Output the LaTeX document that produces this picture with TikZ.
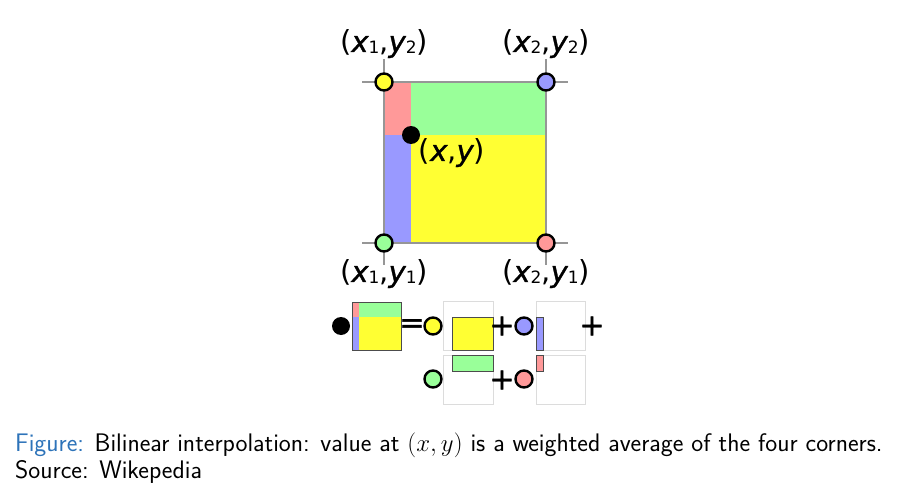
\documentclass[tikz,border=0pt]{standalone}
\usepackage{fontspec}
\newfontfamily\dv{DejaVu Sans}
\newfontfamily\dvb[FakeBold=1.2]{DejaVu Sans}
\definecolor{cred}{RGB}{255,153,153}
\definecolor{cgreen}{RGB}{153,255,153}
\definecolor{cblue}{RGB}{153,153,255}
\definecolor{cyellow}{RGB}{255,255,51}
\definecolor{sqgray}{RGB}{150,150,150}
\definecolor{lightbox}{RGB}{220,220,220}
\definecolor{figblue}{RGB}{45,115,185}
\newcommand{\sbs}[1]{\raisebox{-2pt}{\fontsize{17}{17}\selectfont #1}}
\newcommand{\vx}[1]{{\dvb\itshape #1}}
\begin{document}
\begin{tikzpicture}[x=1pt,y=-1pt,
  corner/.style={circle,draw=black,line width=2.4pt,minimum size=17pt,inner sep=0pt},
  dot/.style={circle,fill=black,minimum size=18pt,inner sep=0pt},
  guide/.style={draw=sqgray,line width=2.2pt},
  label/.style={font=\dv\fontsize{29}{29}\selectfont,inner sep=0pt},
  pbox/.style={draw=lightbox,line width=1pt},
  prect/.style={draw=black!70,line width=1pt},
  op/.style={font=\dvb\fontsize{30}{30}\selectfont,inner sep=0pt},
  captext/.style={anchor=base west,inner sep=0pt,font=\sffamily\fontsize{25.4}{25.4}\selectfont}]
\useasboundingbox (0,0) rectangle (911,503);
% main square
\fill[cred] (384,82) rectangle (411,135);
\fill[cgreen] (411,82) rectangle (546,135);
\fill[cblue] (384,135) rectangle (411,243);
\fill[cyellow] (411,135) rectangle (546,243);
\draw[guide] (362,82) -- (568,82);
\draw[guide] (362,243) -- (568,243);
\draw[guide] (384,59) -- (384,265);
\draw[guide] (546,59) -- (546,265);
\node[corner,fill=cyellow] (c12) at (384,82) {};
\node[corner,fill=cblue] (c22) at (546,82) {};
\node[corner,fill=cgreen] (c11) at (384,243) {};
\node[corner,fill=cred] (c21) at (546,243) {};
\node[dot] (p) at (411,135) {};
\node[label] (l12) at (384,44) {(\vx{x}\sbs{1},\vx{y}\sbs{2})};
\node[label] (l22) at (546,44) {(\vx{x}\sbs{2},\vx{y}\sbs{2})};
\node[label] (l11) at (384,274) {(\vx{x}\sbs{1},\vx{y}\sbs{1})};
\node[label] (l21) at (546,274) {(\vx{x}\sbs{2},\vx{y}\sbs{1})};
\node[label] (lxy) at (452,153) {(\vx{x},\vx{y})};
% equation
\node[dot] (e0) at (341,326) {};
\fill[cred] (352,302) rectangle (359,317);
\fill[cgreen] (359,302) rectangle (401,317);
\fill[cblue] (352,317) rectangle (359,350);
\fill[cyellow] (359,317) rectangle (401,350);
\draw[prect] (352,302) rectangle (401,350);
\node[op] (eq) at (412,326) {=};
\node[corner,fill=cyellow] (e1) at (433,326) {};
\draw[pbox] (443,301) rectangle (493,350);
\filldraw[fill=cyellow,prect] (452,317) rectangle (493,350);
\node[op] (pl1) at (502,326) {+};
\node[corner,fill=cblue] (e2) at (524,326) {};
\draw[pbox] (536,301) rectangle (585,350);
\filldraw[fill=cblue,prect] (536,317) rectangle (543,350);
\node[op] (pl2) at (592,326) {+};
\node[corner,fill=cgreen] (e3) at (433,379) {};
\draw[pbox] (443,355) rectangle (493,404);
\filldraw[fill=cgreen,prect] (452,355) rectangle (493,371);
\node[op] (pl3) at (502,380) {+};
\node[corner,fill=cred] (e4) at (524,379) {};
\draw[pbox] (536,355) rectangle (585,404);
\filldraw[fill=cred,prect] (536,355) rectangle (543,371);
% caption
\node[captext] (cap1) at (15,451)
  {\textcolor{figblue}{Figure:} Bilinear interpolation: value at $(x,y)$ is a weighted average of the four corners.};
\node[captext] (cap2) at (15,478) {Source: Wikepedia};
\end{tikzpicture}
\end{document}
